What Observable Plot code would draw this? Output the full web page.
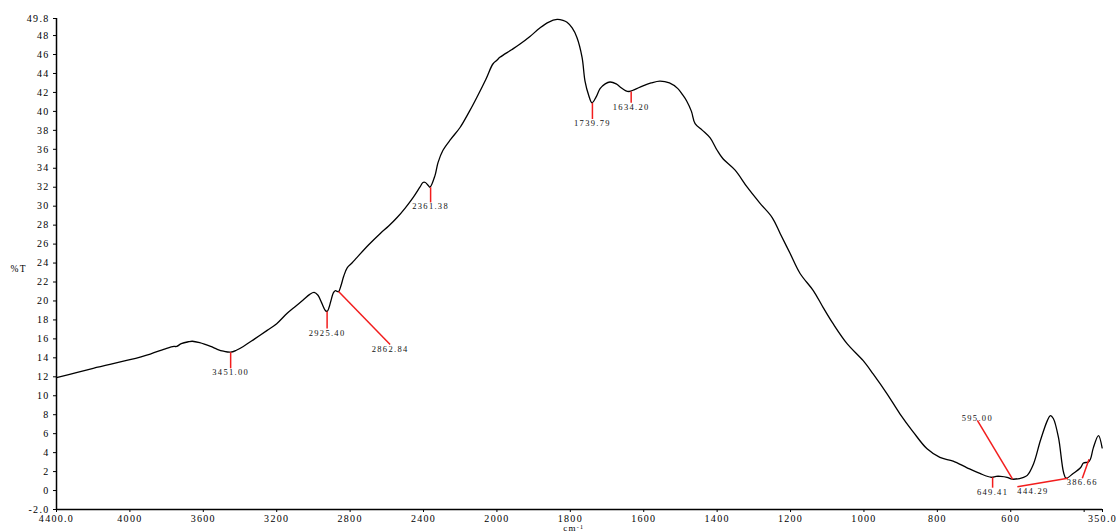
<!DOCTYPE html>
<html>
<head>
<meta charset="utf-8">
<script src="https://cdn.jsdelivr.net/npm/d3@7"></script>
<script src="https://cdn.jsdelivr.net/npm/@observablehq/plot@0.6"></script>
<style>
  html, body { margin: 0; padding: 0; background: #fff; overflow: hidden; }
  #chart svg text { font-family: "Liberation Serif", "Times New Roman", serif; letter-spacing: 1.3px; }
</style>
</head>
<body>
<div id="chart"></div>
<script>
// FTIR spectrum: wavenumber (cm-1) vs transmittance (%T)
const wavenumber = [
  4400, 4200, 4000, 3889, 3800, 3760, 3745, 3720, 3680, 3660, 3620, 3560, 3524, 3490, 3451,
  3420, 3382, 3320, 3252, 3200, 3143, 3100, 3056, 3020, 2996, 2975, 2955, 2935, 2925, 2915,
  2905, 2890, 2880, 2870, 2862, 2850, 2835, 2816, 2790, 2762, 2700, 2637, 2590, 2544, 2500,
  2457, 2420, 2403, 2390, 2375, 2365, 2338, 2321, 2294, 2250, 2201, 2150, 2109, 2060, 2022,
  2000, 1992, 1960, 1937, 1910, 1883, 1860, 1836, 1820, 1809, 1795, 1782, 1768, 1760, 1750,
  1741, 1730, 1719, 1705, 1692, 1675, 1665, 1650, 1640, 1625, 1602, 1580, 1556, 1530, 1507,
  1495, 1483, 1470, 1460, 1440, 1419, 1400, 1384, 1351, 1318, 1283, 1250, 1228, 1201, 1174,
  1138, 1111, 1084, 1046, 1002, 975, 937, 902, 866, 828, 793, 757, 719, 684, 653,
  640, 628, 610, 596, 565, 555, 538, 519, 500, 492, 484, 470, 456, 449, 430,
  410, 402, 389, 383, 375, 361, 351
];
const transmittance = [
  11.9, 12.9, 13.8, 14.4, 15.0, 15.2, 15.2, 15.5, 15.7, 15.75, 15.6, 15.2, 14.9, 14.7, 14.6,
  14.8, 15.2, 16.0, 16.9, 17.6, 18.7, 19.4, 20.1, 20.7, 20.9, 20.6, 19.8, 19.0, 18.9, 19.3,
  20.0, 20.9, 21.1, 21.0, 21.0, 21.6, 22.6, 23.5, 24.0, 24.6, 25.9, 27.1, 27.9, 28.8, 29.8,
  30.9, 32.0, 32.5, 32.5, 32.2, 32.0, 33.2, 34.6, 35.9, 37.1, 38.3, 40.0, 41.5, 43.4, 45.0,
  45.4, 45.7, 46.5, 47.1, 47.9, 48.8, 49.4, 49.7, 49.6, 49.4, 48.8, 47.8, 45.7, 43.2, 41.7,
  40.9, 41.5, 42.4, 42.9, 43.1, 42.9, 42.6, 42.2, 42.1, 42.3, 42.7, 43.0, 43.2, 43.0, 42.4,
  41.8, 41.1, 40.0, 38.7, 38.0, 37.2, 35.9, 35.0, 33.8, 32.0, 30.3, 28.8, 27.1, 25.0, 22.9,
  21.1, 19.3, 17.6, 15.5, 13.7, 12.3, 10.2, 8.1, 6.2, 4.4, 3.5, 3.1, 2.4, 1.8, 1.4,
  1.5, 1.5, 1.4, 1.2, 1.4, 1.6, 2.8, 5.3, 7.4, 7.9, 7.6, 5.6, 1.9, 1.3, 1.8,
  2.4, 2.9, 3.0, 3.3, 4.5, 5.8, 4.5
];

// Picked peaks and where each peak's leader line ends
const peakWavenumber    = [3451.00, 2925.40, 2862.84, 2361.38, 1739.79, 1634.20, 649.41, 595.00, 444.29, 386.66];
const peakTransmittance = [14.6, 18.9, 21.0, 32.0, 40.9, 42.1, 1.4, 1.2, 1.3, 3.3];
const leaderWavenumber    = [3451.00, 2925.40, 2582, 2361.38, 1739.79, 1634.20, 649.41, 691, 582, 405];
const leaderTransmittance = [12.9, 17.1, 15.4, 30.4, 39.2, 40.9, 0.3, 7.4, 0.4, 1.3];

// Axis ticks
const xTicks = [4400, 4000, 3600, 3200, 2800, 2400, 2000, 1800, 1600, 1400, 1200, 1000, 800, 600, 400, 350];
const yTicks = [-2, 0, 2, 4, 6, 8, 10, 12, 14, 16, 18, 20, 22, 24, 26, 28, 30, 32, 34, 36, 38, 40, 42, 44, 46, 48, 49.8];
const xBreaks = [4400, 2000, 350];
const yDomain = [-2, 49.8];

// Wavenumbers above 2000 cm-1 are drawn at half the scale of the rest:
// fold() maps a wavenumber onto that compressed abscissa.
const fold = d3.scaleLinear().domain(xBreaks).range([0, (4400 - 2000) / 2, (4400 - 2000) / 2 + (2000 - 350)]);
const xLabel = new Map(xTicks.map(w => [fold(w), w]));

const spectrum = wavenumber.map((w, i) => ({x: fold(w), t: transmittance[i]}));
const peaks = peakWavenumber.map((w, i) => {
  const lw = leaderWavenumber[i], lt = leaderTransmittance[i], t = peakTransmittance[i];
  let side = lt > t ? "above" : "below";
  if (Math.abs(lt - t) < 1.5 && Math.abs(lw - w) > 50) side = "after";
  return {x: fold(w), t, lx: fold(lw), lt, label: w.toFixed(2), side};
});

const W = 1116, H = 531;
const endFmt = d => d.toFixed(1);

const chart = Plot.plot({
  width: W,
  height: H,
  marginLeft: 56,
  marginRight: 14,
  marginTop: 18,
  marginBottom: 22,
  style: {fontSize: "10px", fontFamily: "'Liberation Serif', 'Times New Roman', serif", background: "#fff", color: "#000"},
  x: {domain: [fold(xBreaks[0]), fold(xBreaks[2])]},
  y: {domain: yDomain},
  marks: [
    Plot.axisX(xTicks.map(fold), {
      tickSize: 3, tickPadding: 2, stroke: "#000", label: null,
      tickFormat: v => {
        const w = xLabel.get(v);
        if (w === xBreaks[0] || w === xBreaks[2]) return endFmt(w);
        return w === 400 ? "" : String(w);
      }
    }),
    Plot.axisY(yTicks, {
      tickSize: 3, tickPadding: 4, stroke: "#000", label: null,
      tickFormat: d => (d === yDomain[0] || d === yDomain[1]) ? endFmt(d) : String(d)
    }),
    Plot.ruleX([fold(xBreaks[0])], {y1: yDomain[0], y2: yDomain[1], stroke: "#000", strokeWidth: 1.5}),
    Plot.ruleY([yDomain[0]], {x1: fold(xBreaks[0]), x2: fold(xBreaks[2]), stroke: "#000", strokeWidth: 1.5}),
    Plot.line(spectrum, {x: "x", y: "t", stroke: "#000", strokeWidth: 1.3, curve: "catmull-rom"}),
    Plot.link(peaks, {x1: "x", y1: "t", x2: "lx", y2: "lt", stroke: "#f21d1d", strokeWidth: 1.5}),
    Plot.text(peaks.filter(d => d.side === "below"), {
      x: "lx", y: "lt", text: "label", lineAnchor: "top", dy: 1, fontSize: 8.5, fill: "#111"
    }),
    Plot.text(peaks.filter(d => d.side === "above"), {
      x: "lx", y: "lt", text: "label", lineAnchor: "bottom", dy: 1, fontSize: 8.5, fill: "#111"
    }),
    Plot.text(peaks.filter(d => d.side === "after"), {
      x: "lx", y: "lt", text: "label", lineAnchor: "top", textAnchor: "start", dy: 1, fontSize: 8.5, fill: "#111"
    }),
    Plot.text(["%T"], {frameAnchor: "left", textAnchor: "start", dx: -46, dy: 5, fontSize: 9.5})
  ]
});

// Unit label under the axis, with a raised exponent
const xs = chart.scale("x");
const unit = d3.select(chart).append("text")
  .attr("x", xs.apply(fold(1800)) + 4)
  .attr("y", H)
  .attr("text-anchor", "middle")
  .attr("font-size", 9)
  .attr("fill", "#000");
unit.append("tspan").text("cm");
unit.append("tspan").attr("dy", -2.5).attr("font-size", 6).text("-1");

document.getElementById("chart").append(chart);
</script>
</body>
</html>
